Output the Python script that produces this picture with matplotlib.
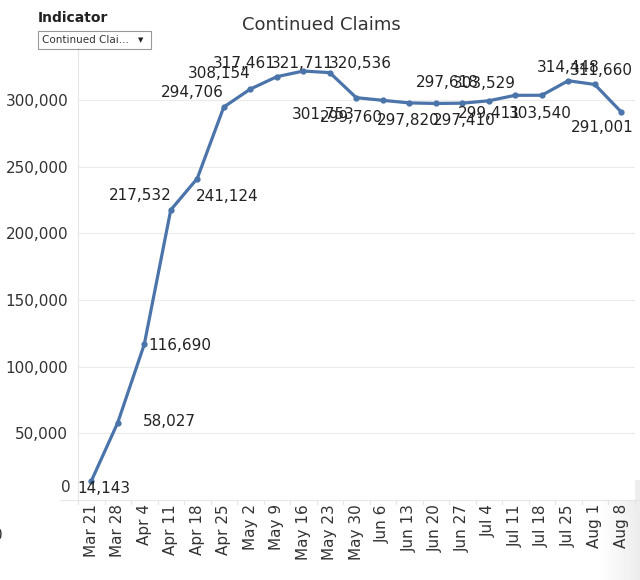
import matplotlib
matplotlib.use("Agg")
import matplotlib.pyplot as plt
import numpy as np
from matplotlib.patches import Rectangle

weeks = ["Mar 21", "Mar 28", "Apr 4", "Apr 11", "Apr 18", "Apr 25", "May 2",
         "May 9", "May 16", "May 23", "May 30", "Jun 6", "Jun 13", "Jun 20",
         "Jun 27", "Jul 4", "Jul 11", "Jul 18", "Jul 25", "Aug 1", "Aug 8"]
claims = [14143, 58027, 116690, 217532, 241124, 294706, 308154,
          317461, 321711, 320536, 301753, 299760, 297820, 297410,
          297618, 299411, 303529, 303540, 314448, 311660, 291001]
y_ticks = [0, 50000, 100000, 150000, 200000, 250000, 300000]

# label offsets in pixels (dx right, dy up)
label_off = [(13, -7), (52, 1), (36, -1), (-31, 14), (30, -18), (-31, 15),
             (-31, 16), (-32, 13), (-1, 8), (31, 9), (-33, -17), (-31, -17),
             (-1, -18), (28, -17), (-15, 21), (1, -13), (-31, 12), (-2, -18),
             (0, 13), (7, 14), (-19, -16)]

blue = "#4b74aa"
txt = "#333333"
grid = "#ebebeb"

fig = plt.figure(figsize=(6.4, 5.8), dpi=100)

# faint shadow on the right edge, behind everything
sh = fig.add_axes([600 / 640, 0, 40 / 640, 100 / 580], zorder=-1)
shade = np.zeros((1, 60, 4))
shade[..., :3] = 0.6
shade[..., 3] = np.linspace(0, 0.18, 60)
sh.imshow(shade, aspect="auto")
sh.axis("off")

ax = fig.add_axes([78 / 640, 80 / 580, 556.5 / 640, 452 / 580])

x = list(range(len(weeks)))
ax.plot(x, claims, color=blue, lw=2.3, marker="o", ms=3.5, zorder=3)

for i, v in enumerate(claims):
    dx, dy = label_off[i]
    ax.annotate(f"{v:,}", (i, v), xytext=(dx, dy), textcoords="offset pixels",
                ha="center", va="center", fontsize=11, color="#222222", zorder=4)

ax.set_xlim(-0.5, len(weeks) - 0.5)
ax.set_ylim(0, 339000)
ax.set_yticks(y_ticks[1:])
ax.set_yticklabels([f"{t:,}" for t in y_ticks[1:]], fontsize=11, color=txt)
# the zero label sits a little above the axis bottom, like in the source
ax.annotate("0", xy=(0, y_ticks[0]), xycoords=("axes fraction", "data"),
            xytext=(-7, 12), textcoords="offset pixels", ha="right", va="center",
            fontsize=11, color=txt)
ax.set_xticks(x)
ax.set_xticklabels(weeks, rotation=90, fontsize=11, color=txt)
ax.tick_params(axis="y", length=0, pad=7)
ax.tick_params(axis="x", length=0, pad=3)
for t in y_ticks[1:]:
    ax.axhline(t, color=grid, lw=0.8, zorder=0)
for s in ["top", "right", "bottom"]:
    ax.spines[s].set_visible(False)
ax.spines["left"].set_color("#e6e6e6")
ax.spines["left"].set_linewidth(0.8)

# header line and separators under the plot
fig.add_artist(plt.Line2D([60 / 640, 1], [80 / 580, 80 / 580], color="#e6e6e6", lw=0.8))
for i in range(len(weeks) + 1):
    xs = (78 + 26.5 * i) / 640
    fig.add_artist(plt.Line2D([xs, xs], [76 / 580, 80 / 580], color="#e6e6e6", lw=0.8))

fig.text(321 / 640, 1 - 25 / 580, "Continued Claims", ha="center", va="center",
         fontsize=13, color=txt)
fig.text(38 / 640, 1 - 18 / 580, "Indicator", ha="left", va="center",
         fontsize=10, fontweight="bold", color="#222222")
fig.add_artist(Rectangle((38 / 640, 1 - 49 / 580), 113 / 640, 18 / 580,
                         transform=fig.transFigure, fill=False, ec="#999999", lw=0.8))
fig.text(42 / 640, 1 - 40 / 580, "Continued Clai...", ha="left", va="center",
         fontsize=7.5, color=txt)
fig.text(141 / 640, 1 - 40 / 580, "▼", ha="center", va="center", fontsize=5, color="#222222")
fig.text(-2 / 640, 1 - 535 / 580, "0", ha="center", va="center", fontsize=11, color=txt)

fig.savefig("out.png", dpi=100)
